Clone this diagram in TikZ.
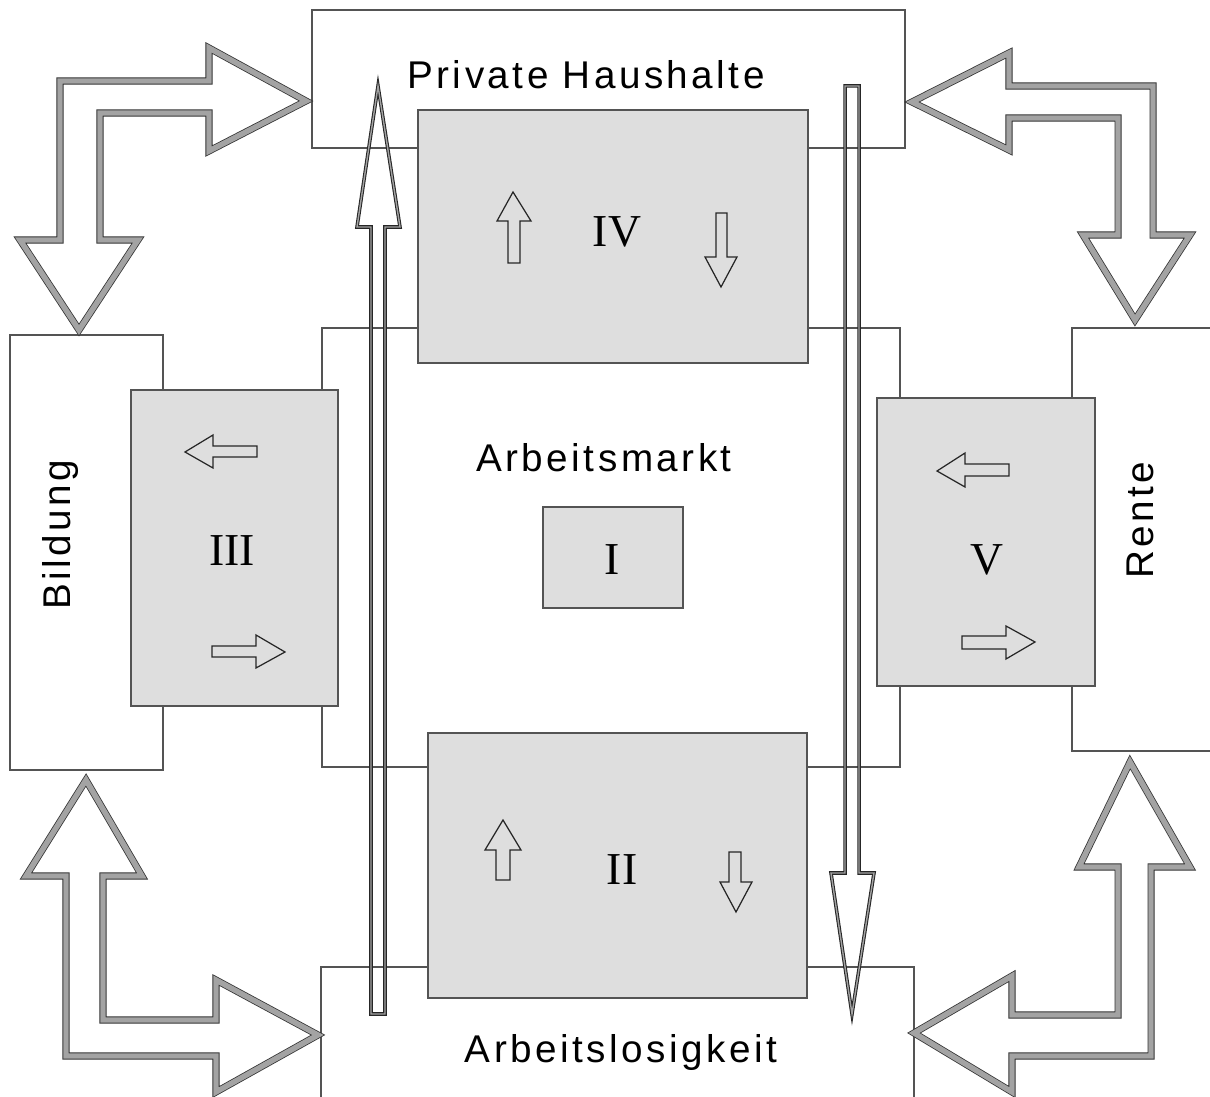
\documentclass[tikz,border=0pt]{standalone}
\usepackage{fontspec}
\usepackage{xcolor}
\usepackage{tikz}
\setmainfont{Liberation Serif}
\newfontfamily\etikett{Liberation Sans}[LetterSpace=9]

\definecolor{kastengrau}{gray}{0.87}
\definecolor{randgrau}{gray}{0.33}
\definecolor{bandgrau}{gray}{0.64}

\tikzset{
  weisskasten/.style={draw=randgrau, fill=white, line width=0.6pt},
  graukasten/.style={draw=randgrau, fill=kastengrau, line width=0.6pt},
  grosspfeil/.style={draw=black!80, line width=0.45pt, double=bandgrau, double distance=3.1pt},
  langpfeil/.style={draw=black!85, line width=0.6pt, double=bandgrau, double distance=0.8pt},
  kleinpfeil/.style={draw=black!85, line width=0.7pt},
  schrift/.style={font=\etikett\fontsize{22}{26}\selectfont, inner sep=0pt},
  ziffer/.style={font=\fontsize{26}{30}\selectfont, inner sep=0pt}
}

\begin{document}
\begin{tikzpicture}[x=0.02cm, y=-0.02cm]
    \useasboundingbox (0,0) rectangle (1210,1097);

    % weisse Kaesten
    \draw[weisskasten] (10,335) rectangle (163,770);     % Bildung
    \draw[weisskasten] (1072,328) rectangle (1230,751);  % Rente
    \draw[weisskasten] (322,328) rectangle (900,767);    % Arbeitsmarkt
    \draw[weisskasten] (312,10) rectangle (905,148);     % Private Haushalte
    \draw[weisskasten] (321,967) rectangle (914,1110);   % Arbeitslosigkeit

    % graue Kaesten
    \draw[graukasten] (418,110) rectangle (808,363);     % IV
    \draw[graukasten] (131,390) rectangle (338,706);     % III
    \draw[graukasten] (877,398) rectangle (1095,686);    % V
    \draw[graukasten] (428,733) rectangle (807,998);     % II
    \draw[graukasten] (543,507) rectangle (683,608);     % I

    % Beschriftungen
    \node[schrift] (haushalte) at (586,75) {Private Haushalte};
    \node[schrift] (markt) at (604,458) {Arbeitsmarkt};
    \node[schrift] (arbeitslos) at (621,1053) {Arbeitslosigkeit};
    \node[schrift, rotate=90] (bildung) at (61,535) {Bildung};
    \node[schrift, rotate=90] (rente) at (1140,520) {Rente};

    % roemische Ziffern
    \node[ziffer] (z4) at (617,232) {IV};
    \node[ziffer] (z3) at (232,551) {III};
    \node[ziffer] (z1) at (612,560) {I};
    \node[ziffer] (z5) at (987,560) {V};
    \node[ziffer] (z2) at (622,870) {II};

    % kleine Pfeile - IV
    \draw[kleinpfeil] (513,192) -- (531,221) -- (520,221) -- (520,263) -- (508,263) -- (508,221) -- (497,221) -- cycle;
    \draw[kleinpfeil] (716,213) -- (727,213) -- (727,257) -- (737,257) -- (721,287) -- (705,257) -- (716,257) -- cycle;

    % kleine Pfeile - II
    \draw[kleinpfeil] (503,820) -- (521,850) -- (510,850) -- (510,880) -- (496,880) -- (496,850) -- (485,850) -- cycle;
    \draw[kleinpfeil] (729,852) -- (741,852) -- (741,882) -- (752,882) -- (736,912) -- (720,882) -- (729,882) -- cycle;

    % kleine Pfeile - III
    \draw[kleinpfeil] (185,452) -- (213,435) -- (213,446) -- (257,446) -- (257,457) -- (213,457) -- (213,468) -- cycle;
    \draw[kleinpfeil] (212,646) -- (256,646) -- (256,635) -- (285,652) -- (256,668) -- (256,657) -- (212,657) -- cycle;

    % kleine Pfeile - V
    \draw[kleinpfeil] (937,471) -- (965,453) -- (965,464) -- (1009,464) -- (1009,476) -- (965,476) -- (965,487) -- cycle;
    \draw[kleinpfeil] (962,636) -- (1006,636) -- (1006,626) -- (1035,642) -- (1006,659) -- (1006,649) -- (962,649) -- cycle;

    % lange Pfeile (Arbeitslosigkeit -> Haushalte, Haushalte -> Arbeitslosigkeit)
    \draw[langpfeil] (378,86) -- (400,227) -- (385,227) -- (385,1014) -- (371,1014) -- (371,227) -- (357,227) -- cycle;
    \draw[langpfeil] (845,86) -- (859,86) -- (859,873) -- (874,873) -- (852,1014) -- (831,873) -- (845,873) -- cycle;

    % Winkelpfeil oben links (Bildung <-> Haushalte)
    \draw[grosspfeil] (79,330) -- (20,240) -- (60,240) -- (60,81) -- (209,81) -- (209,48) -- (306,101)
        -- (209,151) -- (209,113) -- (100,113) -- (100,240) -- (138,240) -- cycle;

    % Winkelpfeil oben rechts (Haushalte <-> Rente)
    \draw[grosspfeil] (912,102) -- (1009,53) -- (1009,86) -- (1153,86) -- (1153,235) -- (1190,235)
        -- (1135,320) -- (1083,235) -- (1118,235) -- (1118,118) -- (1009,118) -- (1009,150) -- cycle;

    % Winkelpfeil unten links (Bildung <-> Arbeitslosigkeit)
    \draw[grosspfeil] (86,780) -- (142,876) -- (103,876) -- (103,1020) -- (216,1020) -- (216,980)
        -- (318,1035) -- (216,1092) -- (216,1056) -- (66,1056) -- (66,876) -- (26,876) -- cycle;

    % Winkelpfeil unten rechts (Arbeitslosigkeit <-> Rente)
    \draw[grosspfeil] (1130,762) -- (1190,867) -- (1151,867) -- (1151,1056) -- (1012,1056) -- (1012,1092)
        -- (914,1033) -- (1012,976) -- (1012,1015) -- (1118,1015) -- (1118,867) -- (1079,867) -- cycle;
\end{tikzpicture}
\end{document}
